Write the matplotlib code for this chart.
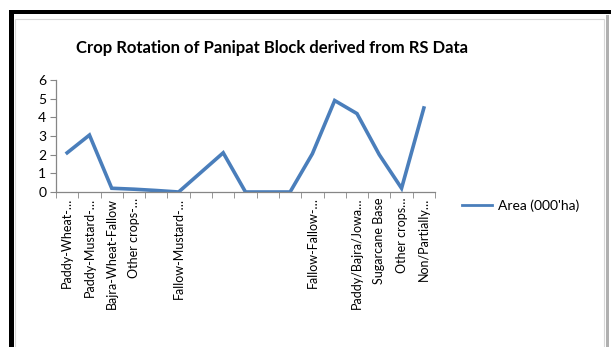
import matplotlib
matplotlib.use("Agg")
import matplotlib.pyplot as plt
from matplotlib.patches import Rectangle
from matplotlib.lines import Line2D

# crop rotation classes and their area (thousand ha)
rotations = [
    "Paddy-Wheat-…", "Paddy-Mustard-…", "Bajra-Wheat-Fallow", "Other crops-…", "",
    "Fallow-Mustard-…", "", "", "", "", "",
    "Fallow-Fallow-…", "", "Paddy/Bajra/Jowa…", "Sugarcane Base", "Other crops…",
    "Non/Partially…",
]
area = [2.1, 3.05, 0.2, 0.15, 0.08, 0.0, 1.05, 2.1, 0.0, 0.0, 0.0,
        2.05, 4.9, 4.2, 2.0, 0.2, 4.5]
y_ticks = [0, 1, 2, 3, 4, 5, 6]

W, H = 611, 347
plt.rcParams["font.family"] = ["Lato", "DejaVu Sans"]

fig = plt.figure(figsize=(W / 100, H / 100), dpi=100)
fig.patch.set_facecolor("white")

def px(x0, y0, x1, y1):
    # box given in pixel coords measured from the top-left corner
    return (x0 / W, 1 - y1 / H), (x1 - x0) / W, (y1 - y0) / H

# dark frame on top/left, grey edge on the right, thin inner border
for (x0, y0, x1, y1), col in [((9, 10, 14, H), "black"),
                               ((9, 10, W, 14), "black"),
                               ((606, 15, 609, H), "#b0b0b0")]:
    xy, w, h = px(x0, y0, x1, y1)
    fig.add_artist(Rectangle(xy, w, h, transform=fig.transFigure,
                             facecolor=col, edgecolor="none"))
xy, w, h = px(15, 19, 604, H + 5)
fig.add_artist(Rectangle(xy, w, h, transform=fig.transFigure,
                         facecolor="none", edgecolor="#d8d8d8", linewidth=0.8))

xy, w, h = px(56, 80, 435, 192)
ax = fig.add_axes([xy[0], xy[1], w, h])
x = list(range(len(area)))
ax.plot(x, area, color="#4a7ebb", linewidth=2.6,
        solid_joinstyle="miter", label="Area (000'ha)")

ax.set_xlim(-0.5, len(area) - 0.5)
ax.set_ylim(0, 6)
ax.set_yticks(y_ticks)
ax.set_yticklabels([str(v) for v in y_ticks], fontsize=10)
ax.set_xticks(x)
ax.set_xticklabels(rotations, rotation=90, fontsize=9, ha="center", va="top")
ax.set_xticks([i - 0.5 for i in range(len(area) + 1)], minor=True)
ax.tick_params(axis="x", which="major", length=0, pad=4)
ax.tick_params(axis="x", which="minor", length=4, color="#868686", direction="out")
ax.tick_params(axis="y", length=4, color="#868686", direction="out", pad=3)

for side in ("top", "right"):
    ax.spines[side].set_visible(False)
for side in ("left", "bottom"):
    ax.spines[side].set_color("#868686")
    ax.spines[side].set_linewidth(0.9)

fig.text(272 / W, 1 - 48 / H, "Crop Rotation of Panipat Block derived from RS Data",
         ha="center", va="center", fontsize=12, fontweight="bold")

fig.legend(handles=[Line2D([], [], color="#4a7ebb", linewidth=2)],
           labels=["Area (000'ha)"], loc="center left",
           bbox_to_anchor=(449 / W, 1 - 206 / H), frameon=False,
           fontsize=10, handlelength=2.2, handletextpad=0.4)

fig.savefig("out.png", dpi=100, facecolor="white")
